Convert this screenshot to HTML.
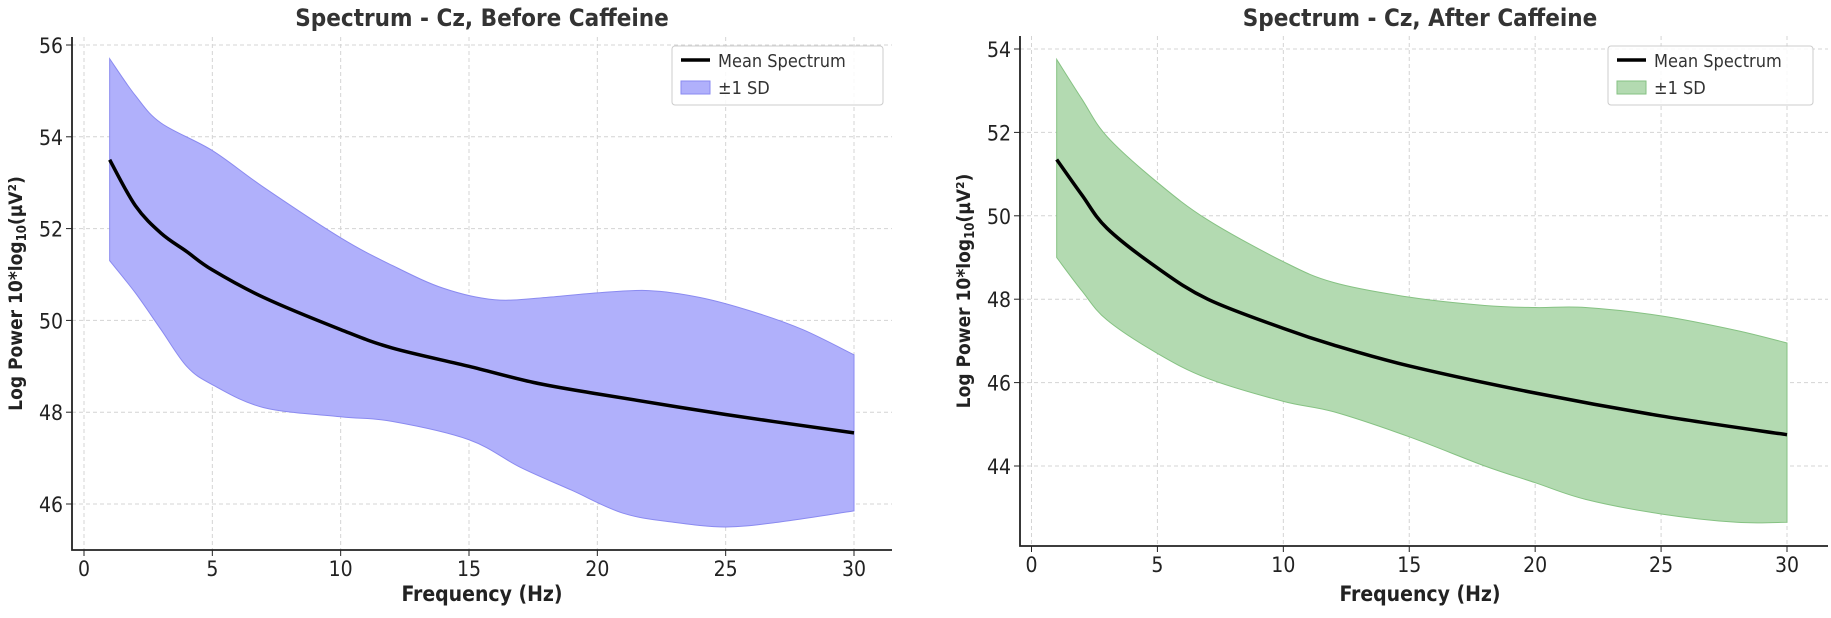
<!DOCTYPE html>
<html><head><meta charset="utf-8"><style>
body{margin:0;background:#fff;}
svg text{font-family:"DejaVu Sans Condensed","Liberation Sans",sans-serif;}
</style></head><body>
<svg id="svg" width="1831" height="613" xmlns="http://www.w3.org/2000/svg"></svg>
<script>
const xTicks=[0,5,10,15,20,25,30];
const leftYTicks=[46,48,50,52,54,56];
const rightYTicks=[44,46,48,50,52,54];
const leftMeanX=[1,2,3,4,5,7,10,12,15,17.5,20,25,30];
const leftMean=[53.5,52.5,51.9,51.5,51.1,50.5,49.8,49.4,49.0,48.65,48.4,47.95,47.55];
const leftUpX=[1,2,3,5,7,10,12,14,16,18,20,22,24,26,28,30];
const leftUpper=[55.7,54.9,54.3,53.7,52.9,51.8,51.2,50.7,50.45,50.5,50.6,50.65,50.5,50.2,49.8,49.25];
const leftLoX=[1,2,3,4,5,7,10,12,15,17,19,21,23,25,27,30];
const leftLower=[51.3,50.6,49.8,49.0,48.6,48.1,47.9,47.8,47.4,46.8,46.3,45.8,45.6,45.5,45.6,45.85];
const rightMeanX=[1,2,3,5,7,10,12,15,20,25,30];
const rightMean=[51.35,50.5,49.7,48.75,48.0,47.3,46.9,46.4,45.75,45.2,44.75];
const rightUpX=[1,2,3,5,7,10,12,15,18,20,22,25,28,30];
const rightUpper=[53.75,52.8,51.9,50.8,49.9,48.9,48.4,48.05,47.85,47.8,47.8,47.6,47.25,46.95];
const rightLoX=[1,2,3,5,7,10,12,15,18,20,22,25,28,30];
const rightLower=[49.0,48.2,47.5,46.7,46.1,45.55,45.3,44.7,44.0,43.6,43.2,42.85,42.65,42.65];

const svg=document.getElementById('svg');
const NS='http://www.w3.org/2000/svg';
function mk(tag,attrs,parent){const e=document.createElementNS(NS,tag);for(const k in attrs)e.setAttribute(k,attrs[k]);(parent||svg).appendChild(e);return e;}
function segs(pts){let d='';
 for(let i=0;i<pts.length-1;i++){const p0=pts[i-1]||pts[i],p1=pts[i],p2=pts[i+1],p3=pts[i+2]||p2;
 d+=' C'+(p1[0]+(p2[0]-p0[0])/6)+','+(p1[1]+(p2[1]-p0[1])/6)+' '+(p2[0]-(p3[0]-p1[0])/6)+','+(p2[1]-(p3[1]-p1[1])/6)+' '+p2[0]+','+p2[1];}
 return d;}
function smooth(pts){return 'M'+pts[0][0]+','+pts[0][1]+segs(pts);}

function panel(cfg){
 const g=mk('g',{});
 
 
 const X=v=>cfg.x0+v*(cfg.x30-cfg.x0)/30;
 const Y=v=>cfg.yA+(v-cfg.vA)*(cfg.yB-cfg.yA)/(cfg.vB-cfg.vA);
 xTicks.forEach(t=>{const l=mk('line',{x1:X(t),x2:X(t),y1:cfg.top,y2:cfg.bottom,stroke:'#d4d4d4','stroke-dasharray':'4,3','stroke-width':1},g);
  });
 cfg.yTicks.forEach(t=>{const l=mk('line',{x1:cfg.left,x2:cfg.right,y1:Y(t),y2:Y(t),stroke:'#d4d4d4','stroke-dasharray':'4,3','stroke-width':1},g);
  });
 const up=cfg.upX.map((x,i)=>[X(x),Y(cfg.up[i])]);
 const lo=cfg.loX.map((x,i)=>[X(x),Y(cfg.lo[i])]).reverse();
 const band=mk('path',{d:smooth(up)+' L'+lo[0][0]+','+lo[0][1]+segs(lo)+' Z',fill:cfg.fill,stroke:cfg.edge,'stroke-width':1},g);
 
 const mean=mk('path',{d:smooth(cfg.meanX.map((x,i)=>[X(x),Y(cfg.mean[i])])),fill:'none',stroke:'#000','stroke-width':3.5},g);
 
 const ax=mk('path',{d:`M${cfg.left},${cfg.top} L${cfg.left},${cfg.bottom} L${cfg.right},${cfg.bottom}`,fill:'none',stroke:'#222','stroke-width':1.8},g);
 
 xTicks.forEach(t=>{mk('line',{x1:X(t),x2:X(t),y1:cfg.bottom,y2:cfg.bottom+6,stroke:'#222'},g);
  const tx=mk('text',{x:X(t),y:cfg.bottom+26,'text-anchor':'middle','font-size':21,fill:'#222'},g);tx.textContent=t;
  });
 cfg.yTicks.forEach(t=>{mk('line',{x1:cfg.left-6,x2:cfg.left,y1:Y(t),y2:Y(t),stroke:'#222'},g);
  const tx=mk('text',{x:cfg.left-9,y:Y(t)+8,'text-anchor':'end','font-size':21,fill:'#222'},g);tx.textContent=t;
  });
 const title=mk('text',{x:cfg.titleX,y:26,'text-anchor':'middle','font-size':24,'font-weight':'bold',fill:'#333'},g);title.textContent=cfg.title;
 
 const xl=mk('text',{x:cfg.titleX,y:601,'text-anchor':'middle','font-size':21,'font-weight':'bold',fill:'#222'},g);xl.textContent='Frequency (Hz)';
 
 const yl=mk('text',{x:0,y:0,'text-anchor':'middle','font-size':19,'font-weight':'bold',fill:'#222',transform:`translate(${cfg.ylX},${(cfg.top+cfg.bottom)/2}) rotate(-90)`},g);
 yl.innerHTML='Log Power 10*log<tspan font-size="13" dy="4">10</tspan><tspan dy="-4">(µV²)</tspan>';
 
 const lg=mk('g',{},g);
 mk('rect',{x:cfg.legX,y:46,width:cfg.legW,height:59,rx:3,fill:'#fff','fill-opacity':0.85,stroke:'#ccc'},lg);
 mk('line',{x1:cfg.legX+9,x2:cfg.legX+38,y1:60,y2:60,stroke:'#000','stroke-width':3.5},lg);
 const t1=mk('text',{x:cfg.legX+46,y:67,'font-size':18,fill:'#333'},lg);t1.textContent='Mean Spectrum';
 
 mk('rect',{x:cfg.legX+9,y:81,width:29,height:13,fill:cfg.fill,stroke:cfg.edge},lg);
 const t2=mk('text',{x:cfg.legX+46,y:94,'font-size':18,fill:'#333'},lg);t2.textContent='±1 SD';
 
}
panel({name:'before-caffeine-panel',title:'Spectrum - Cz, Before Caffeine',titleX:482,ylX:22,left:72,right:892,top:37,bottom:550,x0:84,x30:854,yA:45,vA:56,yB:504,vB:46,yTicks:leftYTicks,
 meanX:leftMeanX,mean:leftMean,upX:leftUpX,up:leftUpper,loX:leftLoX,lo:leftLower,fill:'#b0b0fb',edge:'#8a8af0',legX:672,legW:211});
panel({name:'after-caffeine-panel',title:'Spectrum - Cz, After Caffeine',titleX:1420,ylX:970,left:1020,right:1828,top:36,bottom:546,x0:1031.5,x30:1787,yA:49,vA:54,yB:466,vB:44,yTicks:rightYTicks,
 meanX:rightMeanX,mean:rightMean,upX:rightUpX,up:rightUpper,loX:rightLoX,lo:rightLower,fill:'#b3dab1',edge:'#86c283',legX:1608,legW:205});
</script>
</body></html>
